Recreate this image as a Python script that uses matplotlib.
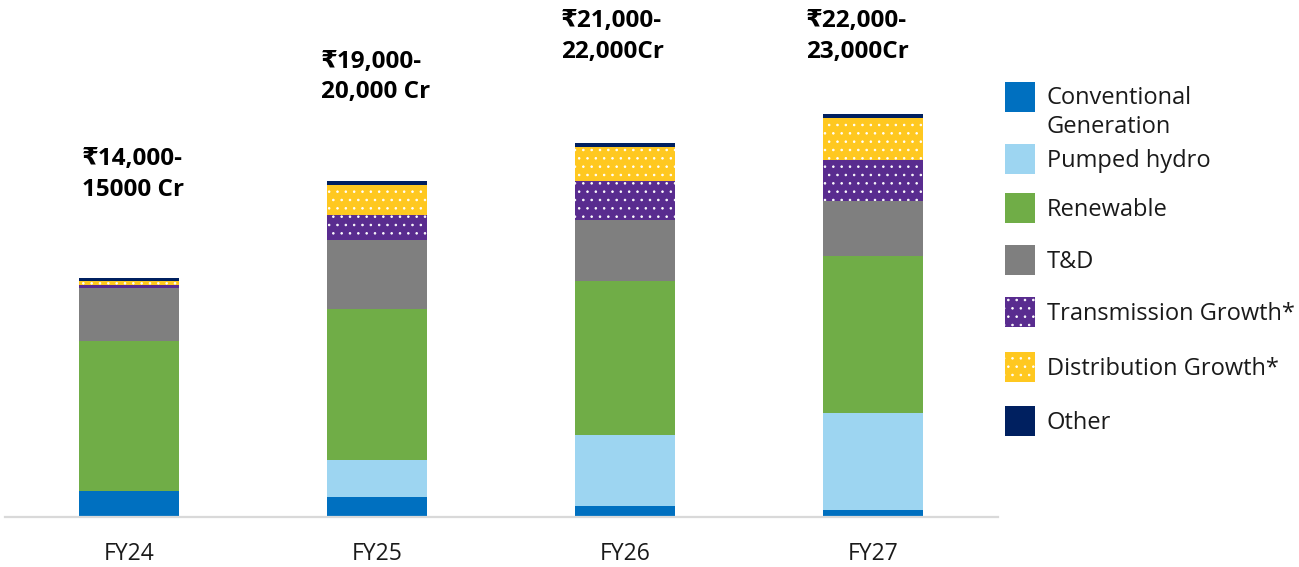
import matplotlib
matplotlib.use("Agg")
import matplotlib.pyplot as plt
from matplotlib.patches import Rectangle
import numpy as np

# ---- data (₹ Cr, estimated split of capex by segment) ----
years = ["FY24", "FY25", "FY26", "FY27"]
conventional = [1480, 1180, 620, 390]
pumped_hydro = [0, 2110, 4120, 5670]
renewable = [8760, 8800, 8980, 9110]
t_and_d = [3020, 3990, 3500, 3170]
transmission_growth = [230, 1450, 2260, 2360]
distribution_growth = [230, 1740, 1990, 2450]
other = [150, 215, 230, 255]

range_labels = ["₹14,000-\n15000 Cr", "₹19,000-\n20,000 Cr",
                "₹21,000-\n22,000Cr", "₹22,000-\n23,000Cr"]

series_names = ["Conventional\nGeneration", "Pumped hydro", "Renewable", "T&D",
                "Transmission Growth*", "Distribution Growth*", "Other"]
series_values = [conventional, pumped_hydro, renewable, t_and_d,
                 transmission_growth, distribution_growth, other]
series_colors = ["#0070C0", "#9DD5F1", "#70AD47", "#7F7F7F",
                 "#592C8F", "#FFC820", "#002060"]
series_hatch = [None, None, None, None, "..", "..", None]

# ---- styling ----
plt.rcParams["font.family"] = ["Open Sans", "DejaVu Sans"]
plt.rcParams["hatch.color"] = "white"
plt.rcParams["hatch.linewidth"] = 0.6

W, H = 1299, 567
fig = plt.figure(figsize=(W / 100, H / 100), dpi=100)

base_px = 517          # baseline row of the axis
ax = fig.add_axes([5 / W, (H - base_px) / H, (997.7 - 5) / W, base_px / H])

x = np.arange(len(years))
bottom = np.zeros(len(years))
for vals, col, hat in zip(series_values, series_colors, series_hatch):
    vals = np.asarray(vals, dtype=float)
    ax.bar(x, vals, width=0.4, bottom=bottom, color=col, hatch=hat,
           linewidth=0)
    bottom += vals

ax.set_xlim(-0.5, 3.503)
ax.set_ylim(0, 30000)
for s in ["top", "right", "left"]:
    ax.spines[s].set_visible(False)
ax.spines["bottom"].set_color("#D9D9D9")
ax.spines["bottom"].set_linewidth(1.6)
ax.set_yticks([])
ax.set_xticks(x)
ax.set_xticklabels(years, fontsize=16.5, color="#1a1a1a")
ax.tick_params(axis="x", length=0, pad=18)

# range annotations above each bar
label_x = [-0.189, 0.775, 1.743, 2.729]
label_y = [21450, 27100, 29450, 29450]
for lx, ly, txt in zip(label_x, label_y, range_labels):
    ax.text(lx, ly, txt, ha="left", va="top", fontsize=17.5,
            fontweight="bold", color="black", linespacing=1.36)

# legend drawn as swatches + labels in figure space
def fx(px):
    return px / W

def fy(py):
    return 1 - py / H

sw_top = [81.7, 144, 193, 245, 297, 351.7, 406]
sw_size = 30
for top, name, col, hat in zip(sw_top, series_names, series_colors, series_hatch):
    fig.add_artist(Rectangle((fx(1005), fy(top + sw_size)), sw_size / W,
                             sw_size / H, transform=fig.transFigure,
                             facecolor=col, hatch=hat, linewidth=0))
    ty = top + sw_size / 2 + 2
    if "\n" in name:
        ty += 13.5
    fig.text(fx(1047), fy(ty), name, ha="left", va="center", fontsize=17,
             color="#1a1a1a", linespacing=1.3)

fig.savefig("out.png", dpi=100)
